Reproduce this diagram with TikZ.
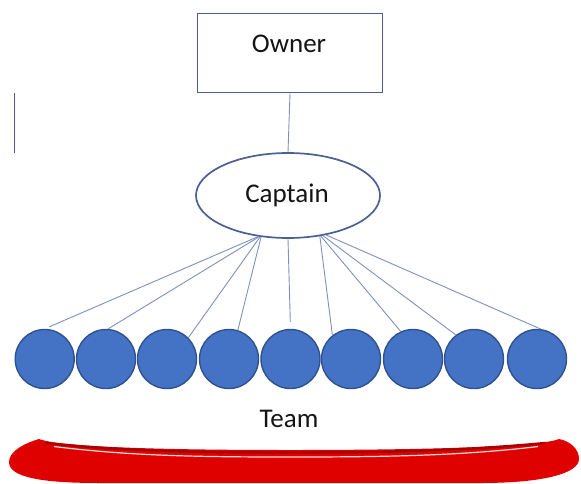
\documentclass[tikz,border=0pt]{standalone}
\usepackage{fontspec}
\setmainfont{Carlito}
\usetikzlibrary{shapes.geometric}
\definecolor{boxblue}{HTML}{4A5F92}
\definecolor{linkblue}{HTML}{7F90BE}
\definecolor{ballfill}{HTML}{4472C4}
\definecolor{ballline}{HTML}{2F528F}
\definecolor{swred}{HTML}{DF0000}
\definecolor{swdark}{HTML}{A80000}
\tikzset{
  ownerbox/.style={draw=boxblue, line width=1.7pt, rectangle, minimum width=185pt, minimum height=79pt, inner sep=0pt},
  captbox/.style={draw=boxblue, line width=1.7pt, ellipse, minimum width=184pt, minimum height=85pt, inner sep=0pt},
  ball/.style={circle, fill=ballfill, draw=ballline, line width=1.4pt, minimum size=59pt, inner sep=0pt},
  link/.style={draw=linkblue, line width=0.9pt},
  lbl/.style={font=\fontsize{27}{31}\selectfont, text=black!92, inner sep=0pt}
}
\begin{document}
\begin{tikzpicture}[x=1pt,y=-1pt]
\useasboundingbox (0,0) rectangle (581,483);
% boxes
\node[ownerbox] (owner) at (290,53) {};
\node[lbl] (ownertxt) at (289,44) {Owner};
\node[captbox] (cap) at (288,195.5) {};
\node[lbl] (captxt) at (287,195) {Captain};
% team members
\foreach \i/\x in {1/44.7,2/106,3/167,4/229,5/290.5,6/351,7/413,8/474,9/537}{
  \node[ball] (t\i) at (\x,359) {};
}
\node[lbl] (team) at (289,419) {Team};
% connectors
\draw[link] (owner.south) -- (cap.north);
\draw[link, shorten >=5pt] (cap.234) -- (t1.north);
\draw[link] (cap.235) -- (t2.86);
\draw[link] (cap.236) -- (t3.45);
\draw[link] (cap.237) -- (t4.73);
\draw[link, shorten >=7pt] (cap.south) -- (t5.north);
\draw[link] (cap.308) -- (t6.128);
\draw[link] (cap.309) -- (t7.114);
\draw[link] (cap.311) -- (t8.127);
\draw[link] (cap.314) -- (t9.83);
% stray vertical line at left
\draw[draw=boxblue, line width=1pt] (14,93) -- (14,153);
% red swoosh
\fill[swred] (39,439) .. controls (25,443) and (9,451) .. (9,462)
  .. controls (9,477) and (40,483) .. (100,483) -- (480,483)
  .. controls (545,483) and (579,473) .. (579,459)
  .. controls (579,449) and (570,441) .. (559,439)
  .. controls (540,447) and (420,450) .. (290,450)
  .. controls (160,450) and (60,447) .. (39,439) -- cycle;
\draw[swdark, line width=2.4pt] (46,443) .. controls (120,451) and (200,452.5) .. (290,452.5)
  .. controls (380,452.5) and (460,451) .. (545,443);
\draw[white!85!swred, line width=1.2pt] (54,446.5) .. controls (130,456) and (200,457) .. (290,457)
  .. controls (380,457) and (460,456) .. (538,446.5);
\end{tikzpicture}
\end{document}
